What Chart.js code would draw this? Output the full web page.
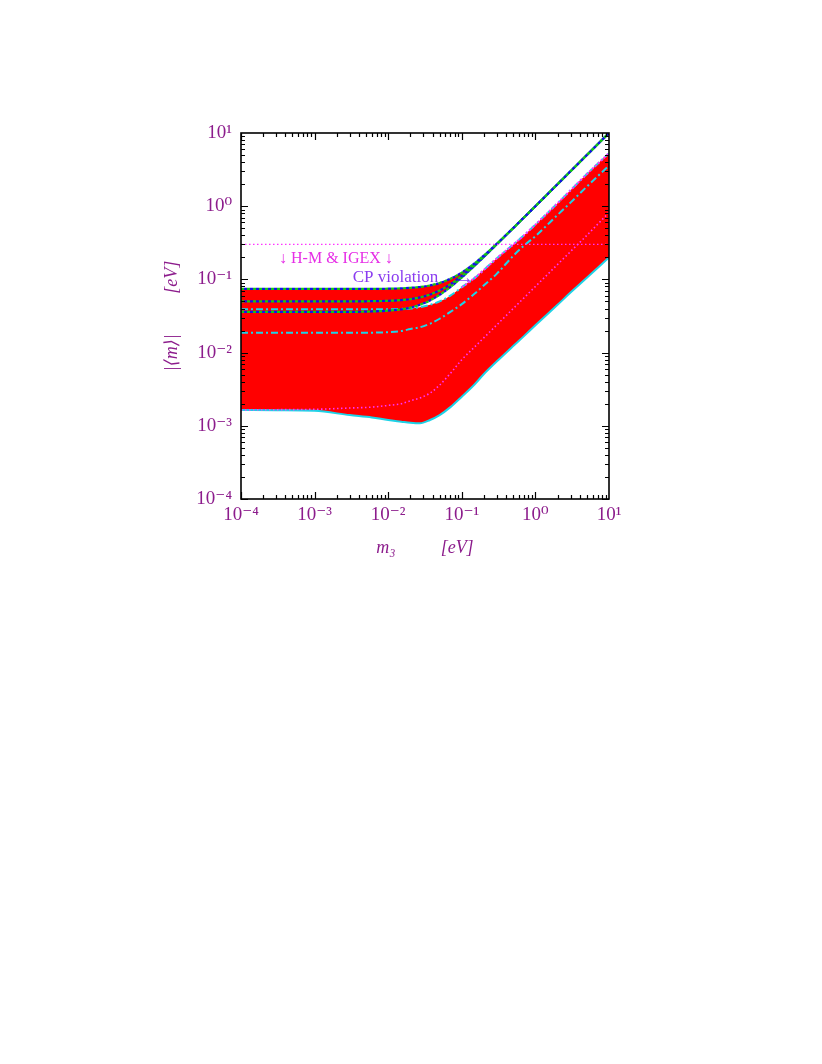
<!DOCTYPE html>
<html>
<head>
<meta charset="utf-8">
<script src="https://cdn.jsdelivr.net/npm/chart.js"></script>
<style>
  html, body { margin: 0; padding: 0; background: #fff; }
  #box { position: absolute; left: 0; top: 0; width: 822px; height: 1064px; }
</style>
</head>
<body>
<div id="box"><canvas id="chart" width="822" height="1064"></canvas></div>
<script>
// lightest mass m3 [eV]
var m3 = [1e-4, 3e-4, 1e-3, 3e-3, 0.006, 0.01, 0.015, 0.02, 0.027, 0.037, 0.05, 0.07, 0.1, 0.15, 0.2, 0.3, 0.5, 0.7, 1, 2, 3, 5, 10];

// |<m>| [eV], upper curves (green / blue)
var top_1 = [0.074, 0.074, 0.074, 0.074, 0.0742, 0.0747, 0.0755, 0.0767, 0.0788, 0.0827, 0.0893, 0.102, 0.124, 0.167, 0.213, 0.309, 0.505, 0.704, 1.0, 2.0, 3.0, 5.0, 10];
var top_2 = [0.050, 0.050, 0.050, 0.050, 0.0504, 0.051, 0.0522, 0.0539, 0.0568, 0.0622, 0.0707, 0.086, 0.112, 0.158, 0.206, 0.304, 0.502, 0.702, 1.0, 2.0, 3.0, 5.0, 10];
var top_3 = [0.036, 0.036, 0.036, 0.036, 0.0365, 0.0374, 0.039, 0.0412, 0.045, 0.0516, 0.0616, 0.0787, 0.106, 0.154, 0.203, 0.302, 0.501, 0.701, 1.0, 2.0, 3.0, 5.0, 10];

// middle curves (cyan dash-dot)
var mid_1 = [0.039, 0.039, 0.039, 0.039, 0.039, 0.039, 0.0395, 0.040, 0.0418, 0.045, 0.050, 0.060, 0.078, 0.105, 0.135, 0.195, 0.30, 0.40, 0.56, 1.1, 1.65, 2.75, 5.3];
var mid_2 = [0.0186, 0.0186, 0.0186, 0.0186, 0.0187, 0.019, 0.0197, 0.021, 0.0222, 0.0248, 0.029, 0.036, 0.046, 0.064, 0.083, 0.12, 0.21, 0.29, 0.39, 0.76, 1.12, 1.85, 3.6];

// lower curves (magenta dotted, cyan bottom edge)
var low_1 = [0.00165, 0.00166, 0.00168, 0.00175, 0.0018, 0.0019, 0.002, 0.0022, 0.0024, 0.0028, 0.0036, 0.0052, 0.0080, 0.012, 0.016, 0.024, 0.040, 0.056, 0.08, 0.16, 0.24, 0.40, 0.82];
var low_2 = [0.00165, 0.00163, 0.0016, 0.0014, 0.0013, 0.0012, 0.00114, 0.0011, 0.00108, 0.0012, 0.0014, 0.0018, 0.0025, 0.0037, 0.0051, 0.0076, 0.0123, 0.0168, 0.0236, 0.045, 0.066, 0.105, 0.2];

// H-M & IGEX bound
var hm_igex = 0.3;

var tick_values = [1e-4, 1e-3, 1e-2, 1e-1, 1, 10];
var tick_labels = ['10⁻⁴', '10⁻³', '10⁻²', '10⁻¹', '10⁰', '10¹'];

var serif = "'Liberation Serif', 'DejaVu Serif', serif";
var purple = '#8c1c8c';
var green = '#14c814', blue = '#1414e6', cyan = '#1ed2e6', magenta = '#ff33ff';

function pts(ys) {
    return ys.map(function (y, i) { return { x: m3[i], y: y }; });
}

function line(ys, color, dash, width, offset) {
    return {
        data: pts(ys), borderColor: color, borderWidth: width, borderDash: dash,
        borderDashOffset: offset || 0, pointRadius: 0, fill: false
    };
}

// frame with inward ticks on all four sides
var frame_plugin = {
    id: 'frame',
    afterDatasetsDraw: function (chart) {
        var ctx = chart.ctx, a = chart.chartArea;
        var xs = chart.scales.x, ys = chart.scales.y;
        ctx.save();
        ctx.strokeStyle = '#000';
        ctx.lineWidth = 1.2;
        ctx.beginPath();
        for (var e = -4; e < 1; e++) {
            for (var k = 1; k < 10; k++) {
                var v = k * Math.pow(10, e);
                var len = k === 1 ? 7 : 4;
                var px = Math.round(xs.getPixelForValue(v)) + 0.5;
                var py = Math.round(ys.getPixelForValue(v)) + 0.5;
                ctx.moveTo(px, a.bottom); ctx.lineTo(px, a.bottom - len);
                ctx.moveTo(px, a.top); ctx.lineTo(px, a.top + len);
                ctx.moveTo(a.left, py); ctx.lineTo(a.left + len, py);
                ctx.moveTo(a.right, py); ctx.lineTo(a.right - len, py);
            }
        }
        ctx.stroke();
        ctx.lineWidth = 1.6;
        ctx.strokeRect(a.left, a.top, a.right - a.left, a.bottom - a.top);
        ctx.restore();
    }
};

// text labels inside the plot
var text_plugin = {
    id: 'notes',
    afterDatasetsDraw: function (chart) {
        var ctx = chart.ctx, xs = chart.scales.x, ys = chart.scales.y;
        ctx.save();
        ctx.font = '16px ' + serif;
        ctx.textBaseline = 'middle';
        ctx.fillStyle = '#e62ee6';
        ctx.textAlign = 'center';
        ctx.fillText('↓ H-M & IGEX ↓', xs.getPixelForValue(0.00195), ys.getPixelForValue(0.19));
        ctx.fillStyle = '#8a3cf0';
        ctx.textAlign = 'left';
        ctx.font = '17px ' + serif;
        ctx.fillText('CP violation', xs.getPixelForValue(0.0033), ys.getPixelForValue(0.105));
        ctx.textAlign = 'center';
        ctx.fillText('→', xs.getPixelForValue(0.11), ys.getPixelForValue(0.102));
        ctx.restore();
    }
};

var datasets = [
    { data: [{ x: 1e-4, y: hm_igex }, { x: 10, y: hm_igex }], borderColor: magenta, borderWidth: 1.2,
      borderDash: [1.5, 2.5], pointRadius: 0, fill: false },
    line(top_1, green, [3, 3], 2.2), line(top_1, blue, [3, 3], 2.2, 3),
    line(top_2, green, [3, 3], 2.2), line(top_2, blue, [3, 3], 2.2, 3),
    line(top_3, green, [3, 3], 2.2), line(top_3, blue, [3, 3], 2.2, 3),
    { data: pts(mid_1).map(function (p) { return p.x >= 0.1 ? p : { x: p.x, y: null }; }),
      borderColor: magenta, borderWidth: 2, borderDash: [2, 2], pointRadius: 0, fill: false },
    line(mid_1, cyan, [7, 3, 2, 3], 2),
    line(mid_2, cyan, [7, 3, 2, 3], 2),
    line(low_1, magenta, [1.5, 2.5], 1.6),
    line(low_2, cyan, [], 2),
    // red bands
    { data: pts(top_1), borderWidth: 0, pointRadius: 0, fill: 5, backgroundColor: '#ff0000' },
    { data: pts(mid_1), borderWidth: 0, pointRadius: 0, fill: 11, backgroundColor: '#ff0000' }
];

new Chart(document.getElementById('chart'), {
    type: 'line',
    data: { datasets: datasets },
    plugins: [frame_plugin, text_plugin],
    options: {
        responsive: false,
        animation: false,
        devicePixelRatio: 1,
        layout: { padding: { left: 151, top: 133, right: 213, bottom: 495 } },
        elements: { line: { cubicInterpolationMode: 'monotone' } },
        plugins: { legend: { display: false }, tooltip: { enabled: false } },
        scales: {
            x: {
                type: 'logarithmic', min: 1e-4, max: 10,
                grid: { display: false, drawTicks: false },
                border: { display: false },
                afterBuildTicks: function (s) { s.ticks = tick_values.map(function (v) { return { value: v }; }); },
                afterFit: function (s) { s.height = 70; },
                ticks: {
                    autoSkip: false, maxRotation: 0, padding: 5, color: purple,
                    font: { family: serif, size: 19 },
                    callback: function (v) { var i = tick_values.indexOf(v); return i < 0 ? '' : tick_labels[i]; }
                },
                title: {
                    display: true, text: 'm₃          [eV]', color: purple,
                    font: { family: serif, size: 18, style: 'italic' }, padding: { top: 0, bottom: 10 }
                }
            },
            y: {
                type: 'logarithmic', min: 1e-4, max: 10,
                grid: { display: false, drawTicks: false },
                border: { display: false },
                afterBuildTicks: function (s) { s.ticks = tick_values.map(function (v) { return { value: v }; }); },
                afterFit: function (s) { s.width = 90; },
                ticks: {
                    autoSkip: false, padding: 9, color: purple,
                    font: { family: serif, size: 19 },
                    callback: function (v) { var i = tick_values.indexOf(v); return i < 0 ? '' : tick_labels[i]; }
                },
                title: {
                    display: true, text: '|⟨m⟩|         [eV]', color: purple,
                    font: { family: serif, size: 18, style: 'italic' }, padding: { top: 10, bottom: 0 }
                }
            }
        }
    }
});
</script>
</body>
</html>
